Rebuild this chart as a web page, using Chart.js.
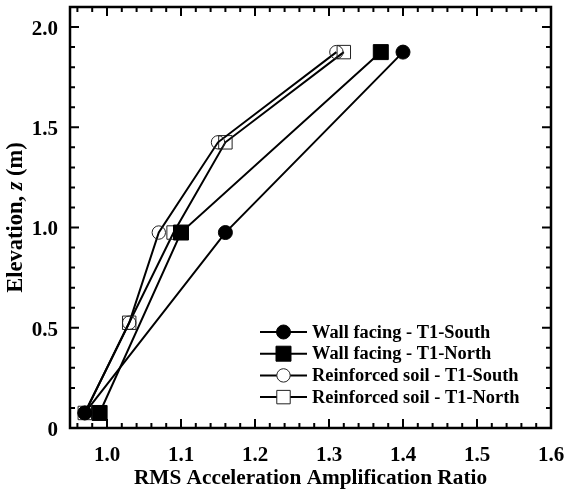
<!DOCTYPE html>
<html>
<head>
<meta charset="utf-8">
<script src="https://cdn.jsdelivr.net/npm/chart.js@4/dist/chart.umd.min.js"></script>
<style>
  html, body { margin: 0; padding: 0; background: #fff; }
  #wrap { width: 568px; height: 495px; }
</style>
</head>
<body>
<div id="wrap"><canvas id="c" width="568" height="495"></canvas></div>
<script>
// Elevations (m) of the instrumented levels
const wallElevation = [0.075, 0.975, 1.875];
const soilElevation = [0.075, 0.525, 0.975, 1.425, 1.875];

// RMS acceleration amplification ratio at each level
const wallSouthRatio = [0.97, 1.16, 1.40];
const wallNorthRatio = [0.99, 1.10, 1.37];
const soilSouthRatio = [0.97, 1.03, 1.07, 1.15, 1.31];
const soilNorthRatio = [0.97, 1.03, 1.09, 1.16, 1.32];

const seriesNames = [
  'Wall facing - T1-South',
  'Wall facing - T1-North',
  'Reinforced soil - T1-South',
  'Reinforced soil - T1-North'
];

const xTickLabels = ['1.0', '1.1', '1.2', '1.3', '1.4', '1.5', '1.6'];
const yTickLabels = ['0', '0.5', '1.0', '1.5', '2.0'];

const FONT = "'Liberation Serif', 'Times New Roman', Times, serif";

function pairs(xs, ys) {
  return xs.map((x, i) => ({ x: x, y: ys[i] }));
}

function series(label, xs, ys, style, radius, filled) {
  return {
    label: label,
    data: pairs(xs, ys),
    showLine: true,
    borderColor: '#000',
    borderWidth: 2,
    pointStyle: style,
    pointRadius: radius,
    pointHoverRadius: radius,
    pointBackgroundColor: filled ? '#000' : 'rgba(0,0,0,0)',
    pointBorderColor: filled ? '#000' : '#222',
    pointBorderWidth: 1,
    fill: false,
    tension: 0
  };
}

function noPad(s) { s.paddingLeft = 0; s.paddingRight = 0; s.paddingTop = 0; s.paddingBottom = 0; }

// Inward tick marks on all four sides plus the plot frame
const frameTicks = {
  id: 'frameTicks',
  afterDatasetsDraw(chart) {
    const { ctx, chartArea: a, scales: { x, y } } = chart;
    const majorLen = 9, minorLen = 5;
    ctx.save();
    ctx.strokeStyle = '#000';
    ctx.lineWidth = 2;
    ctx.beginPath();
    const xMajor = xTickLabels.map(Number);
    for (let v = 0.96; v <= x.max + 1e-9; v += 0.02) {
      const val = Math.round(v * 100) / 100;
      const isMajor = xMajor.some(m => Math.abs(m - val) < 1e-6);
      const len = isMajor ? majorLen : minorLen;
      const px = x.getPixelForValue(val);
      ctx.moveTo(px, a.bottom); ctx.lineTo(px, a.bottom - len);
      ctx.moveTo(px, a.top); ctx.lineTo(px, a.top + len);
    }
    const yMajor = yTickLabels.map(Number);
    for (let v = 0.1; v < y.max - 1e-6; v += 0.1) {
      const val = Math.round(v * 10) / 10;
      const isMajor = yMajor.some(m => Math.abs(m - val) < 1e-6);
      const len = isMajor ? majorLen : minorLen;
      const py = y.getPixelForValue(val);
      ctx.moveTo(a.left, py); ctx.lineTo(a.left + len, py);
      ctx.moveTo(a.right, py); ctx.lineTo(a.right - len, py);
    }
    ctx.stroke();
    ctx.lineWidth = 2.5;
    ctx.strokeRect(a.left, a.top, a.right - a.left, a.bottom - a.top);
    ctx.restore();
  }
};

// Rotated y-axis title with an italic symbol
const yTitle = {
  id: 'yTitle',
  afterDraw(chart) {
    const { ctx, chartArea: a } = chart;
    const size = 22.5;
    const parts = [
      { t: 'Elevation, ', f: 'bold ' + size + 'px ' + FONT },
      { t: 'z', f: 'italic bold ' + size + 'px ' + FONT },
      { t: ' (m)', f: 'bold ' + size + 'px ' + FONT }
    ];
    ctx.save();
    let total = 0;
    parts.forEach(p => { ctx.font = p.f; p.w = ctx.measureText(p.t).width; total += p.w; });
    ctx.translate(16, (a.top + a.bottom) / 2);
    ctx.rotate(-Math.PI / 2);
    ctx.fillStyle = '#000';
    ctx.textBaseline = 'middle';
    ctx.textAlign = 'left';
    let cx = -total / 2;
    parts.forEach(p => { ctx.font = p.f; ctx.fillText(p.t, cx, 0); cx += p.w; });
    ctx.restore();
  }
};

// Legend inside the plot: line segment with marker, then label
const innerLegend = {
  id: 'innerLegend',
  afterDraw(chart) {
    const { ctx } = chart;
    const x0 = 260, x1 = 307, tx = 312, y0 = 332, dy = 21.7;
    ctx.save();
    chart.data.datasets.forEach((ds, i) => {
      const yy = y0 + i * dy;
      ctx.strokeStyle = '#000';
      ctx.lineWidth = 2;
      ctx.beginPath();
      ctx.moveTo(x0, yy); ctx.lineTo(x1, yy);
      ctx.stroke();
      ctx.fillStyle = ds.pointBackgroundColor === '#000' ? '#000' : '#fff';
      ctx.strokeStyle = ds.pointBorderColor;
      ctx.lineWidth = ds.pointBorderWidth;
      Chart.helpers.drawPoint(ctx, {
        pointStyle: ds.pointStyle, radius: ds.pointRadius, borderWidth: ds.pointBorderWidth, rotation: 0
      }, (x0 + x1) / 2, yy);
      ctx.fillStyle = '#000';
      ctx.font = 'bold 18.4px ' + FONT;
      ctx.textBaseline = 'middle';
      ctx.textAlign = 'left';
      ctx.fillText(ds.label, tx, yy + 1);
    });
    ctx.restore();
  }
};

new Chart(document.getElementById('c'), {
  type: 'line',
  data: {
    datasets: [
      series(seriesNames[0], wallSouthRatio, wallElevation, 'circle', 7, true),
      series(seriesNames[1], wallNorthRatio, wallElevation, 'rect', 10.6, true),
      series(seriesNames[2], soilSouthRatio, soilElevation, 'circle', 6.7, false),
      series(seriesNames[3], soilNorthRatio, soilElevation, 'rect', 9.5, false)
    ]
  },
  options: {
    responsive: false,
    animation: false,
    devicePixelRatio: 1,
    layout: { autoPadding: false, padding: { top: 7, right: 17, left: 0, bottom: 0 } },
    plugins: { legend: { display: false }, tooltip: { enabled: false } },
    scales: {
      x: {
        type: 'linear',
        min: 0.95,
        max: 1.6,
        afterFit(s) { s.height = 67; noPad(s); },
        afterBuildTicks(s) { s.ticks = xTickLabels.map(v => ({ value: Number(v) })); },
        grid: { display: false, drawTicks: false },
        border: { display: false },
        ticks: {
          autoSkip: false,
          maxRotation: 0,
          padding: 15,
          color: '#000',
          font: { family: FONT, size: 21, weight: 'bold' },
          callback: (v) => xTickLabels.find(t => Math.abs(Number(t) - v) < 1e-6)
        },
        title: {
          display: true,
          text: 'RMS Acceleration Amplification Ratio',
          color: '#000',
          font: { family: FONT, size: 21.3, weight: 'bold' },
          padding: { top: 0, bottom: 4 }
        }
      },
      y: {
        type: 'linear',
        min: 0,
        max: 2.1,
        afterFit(s) { s.width = 70; noPad(s); },
        afterBuildTicks(s) { s.ticks = yTickLabels.map(v => ({ value: Number(v) })); },
        grid: { display: false, drawTicks: false },
        border: { display: false },
        ticks: {
          autoSkip: false,
          padding: 12,
          labelOffset: 2.5,
          color: '#000',
          font: { family: FONT, size: 21, weight: 'bold' },
          callback: (v) => yTickLabels.find(t => Math.abs(Number(t) - v) < 1e-6)
        }
      }
    }
  },
  plugins: [frameTicks, yTitle, innerLegend]
});
</script>
</body>
</html>
